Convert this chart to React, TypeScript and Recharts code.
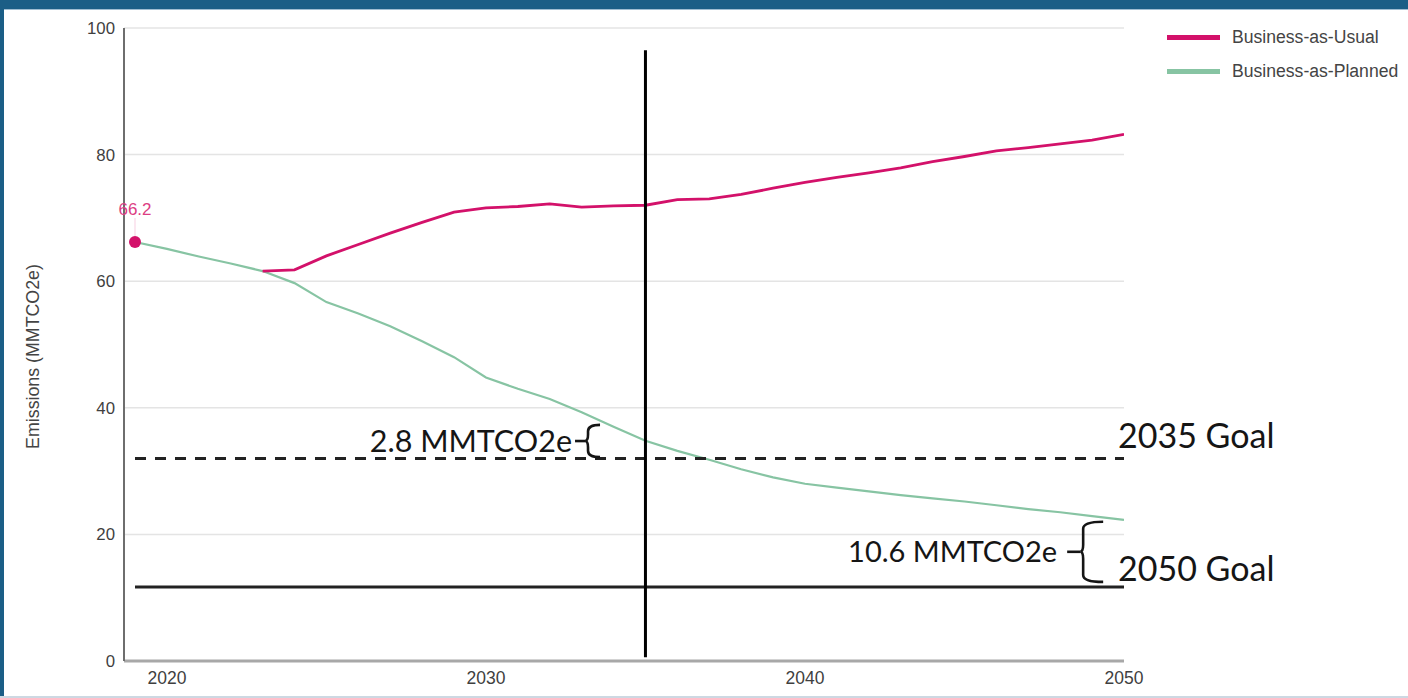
import React from "react";
import {
  LineChart,
  Line,
  XAxis,
  YAxis,
  CartesianGrid,
  ReferenceLine,
} from "recharts";

// yearly values
const years = [
  2019, 2020, 2021, 2022, 2023, 2024, 2025, 2026, 2027, 2028, 2029, 2030, 2031,
  2032, 2033, 2034, 2035, 2036, 2037, 2038, 2039, 2040, 2041, 2042, 2043, 2044,
  2045, 2046, 2047, 2048, 2049, 2050,
];
const businessAsUsual = [
  66.2, null, null, null, 61.6, 61.8, 64.0, 65.8, 67.6, 69.3, 70.9, 71.6, 71.8,
  72.2, 71.7, 71.9, 72.0, 72.9, 73.0, 73.7, 74.7, 75.6, 76.4, 77.1, 77.9, 78.9,
  79.7, 80.6, 81.1, 81.7, 82.3, 83.2,
];
const businessAsPlanned = [
  66.2, 65.1, 63.9, 62.8, 61.6, 59.7, 56.7, 54.9, 52.9, 50.5, 48.0, 44.8, 43.0,
  41.4, 39.3, 37.0, 34.8, 33.2, 31.8, 30.3, 29.0, 28.0, 27.4, 26.8, 26.2, 25.7,
  25.2, 24.6, 24.0, 23.5, 22.9, 22.3,
];
const seriesNames = ["Business-as-Usual", "Business-as-Planned"];
const xTicks = [2020, 2030, 2040, 2050];
const yTicks = [0, 20, 40, 60, 80, 100];

const goal2035 = 32;
const goal2050 = 11.7;
const gapLabel2035 = "2.8 MMTCO2e";
const gapLabel2050 = "10.6 MMTCO2e";

const PINK = "#d3116a";
const GREEN = "#87c4a3";
const INK = "#151515";
const AXIS_FONT = "'Liberation Sans', Arial, sans-serif";
const NOTE_FONT = "Lato, 'Open Sans', sans-serif";

const data = years.map((year, i) => ({
  year,
  bau: businessAsUsual[i],
  bap: businessAsPlanned[i],
}));

const goalLine =
  (label: string, dash: string | undefined, textDy: number) => (props: any) => {
    const { x1, y1, x2, y2 } = props;
    return (
      <g>
        <line
          x1={x1}
          y1={y1}
          x2={x2}
          y2={y2}
          stroke="#222"
          strokeWidth={3}
          strokeDasharray={dash}
        />
        <text
          x={x2 - 6}
          y={y2 + textDy}
          fontFamily={NOTE_FONT}
          fontSize={34}
          fill={INK}
        >
          {label}
        </text>
      </g>
    );
  };

const brace =
  (label: string, hook: number, tick: number, gap: number, size: number) =>
  (props: any) => {
    const { x1, y1, y2 } = props;
    const top = Math.min(y1, y2);
    const bot = Math.max(y1, y2);
    const mid = (top + bot) / 2;
    const r = Math.min(7, (bot - top) / 5);
    const d = `M ${x1 + hook} ${top} Q ${x1} ${top} ${x1} ${top + r} L ${x1} ${
      mid - r
    } Q ${x1} ${mid} ${x1 - 3} ${mid} Q ${x1} ${mid} ${x1} ${mid + r} L ${x1} ${
      bot - r
    } Q ${x1} ${bot} ${x1 + hook} ${bot}`;
    return (
      <g>
        <path d={d} fill="none" stroke={INK} strokeWidth={2.6} />
        <line
          x1={x1 - 3 - tick}
          y1={mid}
          x2={x1 - 3}
          y2={mid}
          stroke={INK}
          strokeWidth={2.6}
        />
        <text
          x={x1 - 3 - tick - gap}
          y={mid}
          dy="0.36em"
          textAnchor="end"
          fontFamily={NOTE_FONT}
          fontSize={size}
          fill={INK}
        >
          {label}
        </text>
      </g>
    );
  };

const firstDot = (props: any) => {
  const { cx, cy, index } = props;
  if (index !== 0 || cx == null || cy == null) return <g key={`d${index}`} />;
  return <circle key={`d${index}`} cx={cx} cy={cy} r={6} fill={PINK} />;
};

const firstLabel = (props: any) => {
  const { x, y, index, value } = props;
  if (index !== 0 || x == null || y == null) return <g key={`l${index}`} />;
  return (
    <g key={`l${index}`}>
      <line
        x1={x}
        y1={y - 24}
        x2={x}
        y2={y - 6}
        stroke={PINK}
        strokeOpacity={0.2}
        strokeWidth={1}
      />
      <text
        x={x}
        y={y - 33}
        dy="0.36em"
        textAnchor="middle"
        fontFamily={AXIS_FONT}
        fontSize={17}
        fill="#dc3d83"
      >
        {value}
      </text>
    </g>
  );
};

const yLabel = (props: any) => {
  const vb = props.viewBox || { y: 28, height: 633 };
  const cy = vb.y + vb.height / 2 + 12;
  return (
    <text
      x={33}
      y={cy}
      transform={`rotate(-90, 33, ${cy})`}
      textAnchor="middle"
      dominantBaseline="central"
      fontFamily={AXIS_FONT}
      fontSize={17.8}
      fill="#444"
    >
      Emissions (MMTCO2e)
    </text>
  );
};

export default function App() {
  const legendColors = [PINK, GREEN];
  return (
    <div
      style={{
        position: "absolute",
        left: 0,
        top: 0,
        width: 1408,
        height: 698,
        background: "#fff",
        overflow: "hidden",
      }}
    >
      <LineChart
        width={1408}
        height={698}
        data={data}
        margin={{ top: 28, right: 284, bottom: 7, left: 44 }}
      >
        <CartesianGrid vertical={false} stroke="#e4e4e4" strokeWidth={1.5} />
        <XAxis
          dataKey="year"
          type="number"
          domain={[2018.655, 2050]}
          ticks={xTicks}
          allowDataOverflow
          height={30}
          axisLine={{ stroke: "#a8a8a8", strokeWidth: 3 }}
          tickLine={false}
          tickSize={0}
          tickMargin={11}
          tick={{ fill: "#3f3f3f", fontSize: 17.5, fontFamily: AXIS_FONT }}
        />
        <YAxis
          type="number"
          domain={[0, 100]}
          ticks={yTicks}
          width={80}
          axisLine={{ stroke: "#6e6e6e", strokeWidth: 2 }}
          tickLine={false}
          tickSize={0}
          tickMargin={9}
          tick={{ fill: "#3f3f3f", fontSize: 16.8, fontFamily: AXIS_FONT }}
          label={{ content: yLabel }}
        />
        <Line
          dataKey="bap"
          name={seriesNames[1]}
          stroke={GREEN}
          strokeWidth={2.2}
          dot={false}
          isAnimationActive={false}
        />
        <Line
          dataKey="bau"
          name={seriesNames[0]}
          stroke={PINK}
          strokeWidth={2.8}
          dot={firstDot}
          label={firstLabel}
          isAnimationActive={false}
        />
        <ReferenceLine
          segment={[
            { x: 2019, y: goal2035 },
            { x: 2050, y: goal2035 },
          ]}
          shape={goalLine("2035 Goal", "11 9", -10)}
        />
        <ReferenceLine
          segment={[
            { x: 2019, y: goal2050 },
            { x: 2050, y: goal2050 },
          ]}
          shape={goalLine("2050 Goal", undefined, -6)}
        />
        <ReferenceLine
          segment={[
            { x: 2035, y: 96.5 },
            { x: 2035, y: 0.6 },
          ]}
          stroke="#000"
          strokeWidth={3}
        />
        <ReferenceLine
          segment={[
            { x: 2033.2, y: 37.3 },
            { x: 2033.2, y: 32.2 },
          ]}
          shape={brace(gapLabel2035, 12, 10, 3, 30.5)}
        />
        <ReferenceLine
          segment={[
            { x: 2048.72, y: 22.0 },
            { x: 2048.72, y: 12.5 },
          ]}
          shape={brace(gapLabel2050, 20, 13, 10, 29)}
        />
      </LineChart>

      <div
        style={{
          position: "absolute",
          left: 1167,
          top: 26,
          fontFamily: AXIS_FONT,
          fontSize: 17.6,
          color: "#444",
        }}
      >
        {seriesNames.map((name, i) => (
          <div
            key={name}
            style={{
              display: "flex",
              alignItems: "center",
              height: 22,
              marginBottom: 12,
            }}
          >
            <span
              style={{
                display: "inline-block",
                width: 53,
                height: 5,
                background: legendColors[i],
                marginRight: 12,
              }}
            />
            {name}
          </div>
        ))}
      </div>

      <div
        style={{
          position: "absolute",
          left: 0,
          top: 0,
          width: 1408,
          height: 9,
          background: "#1b5e86",
          borderBottom: "1px solid #9fbdd1",
        }}
      />
      <div
        style={{
          position: "absolute",
          left: 0,
          top: 0,
          width: 4,
          height: 698,
          background: "#1b5e86",
        }}
      />
      <div
        style={{
          position: "absolute",
          left: 0,
          top: 696,
          width: 1408,
          height: 2,
          background: "#cdd8e2",
        }}
      />
    </div>
  );
}
